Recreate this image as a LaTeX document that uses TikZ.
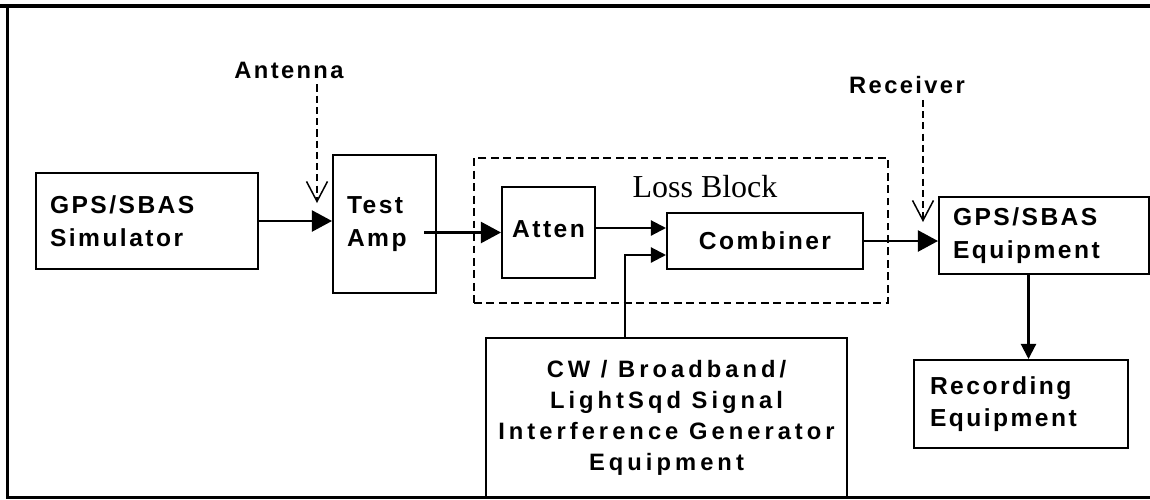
\documentclass[tikz,border=0pt]{standalone}
\usepackage{fontspec}
\setmainfont{Liberation Serif}
\newfontfamily\lblfont[LetterSpace=10]{Liberation Sans}
\newfontfamily\cwfont[LetterSpace=17]{Liberation Sans}
\usepackage{tikz}
\usetikzlibrary{arrows.meta,positioning,calc}

\begin{document}
\begin{tikzpicture}[every node/.style={font=\lblfont\bfseries\fontsize{14}{18.5}\selectfont},
  box/.style={draw,line width=1.15pt,inner sep=0pt},
  lbox/.style={box,align=left,inner xsep=0.28cm},
  sig/.style={line width=1.2pt,-{Triangle[length=0.4cm,width=0.42cm]}},
  sigsmall/.style={line width=1.2pt,-{Triangle[length=0.3cm,width=0.3cm]}},
  probe/.style={line width=0.85pt,dash pattern=on 4pt off 2.4pt,-{Straight Barb[length=0.4cm,width=0.42cm]}}]
  \useasboundingbox (0,0) rectangle (23,-9.98);
  \draw[line width=2.3pt] (0,-0.12) -- (23,-0.12);
  \draw[line width=1.4pt] (0.15,-0.12) -- (0.15,-9.95) -- (23,-9.95);

  \node[box,line width=0.85pt,dash pattern=on 4.5pt off 2.6pt,minimum width=8.28cm,minimum height=2.9cm] (loss) at (13.62,-4.61) {};
  \node[font=\fontsize{18.2}{20}\selectfont,anchor=base] (losslbl) at (14.1,-3.94) {Loss Block};

  \node[lbox,minimum height=1.92cm,text width=3.88cm] (sim) at (2.94,-4.42) {GPS/SBAS\\Simulator};
  \node[lbox,minimum height=2.76cm,text width=1.5cm] (amp) at (7.69,-4.48) {Test\\Amp};
  \node[box,minimum width=1.86cm,minimum height=1.82cm] (atten) at (10.97,-4.65) {\raisebox{0.14cm}{Atten}};
  \node[box,minimum width=3.92cm,minimum height=1.12cm] (comb) at (15.3,-4.82) {\raisebox{-0.12cm}{Combiner}};
  \node[lbox,minimum height=1.54cm,text width=3.64cm] (rx) at (20.88,-4.71) {GPS/SBAS\\Equipment};
  \node[lbox,inner xsep=0.32cm,minimum height=1.76cm,text width=3.64cm] (rec) at (20.42,-8.08) {Recording\\Equipment};
  \node[box,minimum width=7.22cm,minimum height=3.18cm,align=center,font=\cwfont\bfseries\fontsize{13.5}{17.6}\selectfont] (cw) at (13.33,-8.35) {CW / Broadband/\\LightSqd Signal\\Interference Generator\\Equipment};

  \node[font=\lblfont\bfseries\fontsize{13.5}{15}\selectfont] (ant) at (5.78,-1.4) {Antenna};
  \node[font=\lblfont\bfseries\fontsize{13.5}{15}\selectfont] (rcv) at (18.14,-1.7) {Receiver};
  \coordinate (antip) at (6.34,-4.06);
  \coordinate (rcvtip) at (18.46,-4.44);
  \draw[probe] (antip |- ant.south) -- (antip);
  \draw[probe] (rcvtip |- rcv.south) -- (rcvtip);

  \coordinate (ampout) at ([xshift=-0.26cm]amp.east);
  \coordinate (cin1) at ([yshift=0.26cm]comb.west);
  \coordinate (cin2) at ([yshift=-0.28cm]comb.west);
  \coordinate (cwup) at ([xshift=-0.82cm]cin2);
  \coordinate (rxout) at ([xshift=-0.31cm]rx.south);
  \draw[sig] (sim.east) -- (sim.east -| amp.west);
  \draw[sig] (ampout |- atten.west) -- (atten.west);
  \draw[sigsmall] (atten.east |- cin1) -- (cin1);
  \draw[sigsmall] (cw.north -| cwup) -- (cwup) -- (cin2);
  \draw[sig] (comb.east) -- (comb.east -| rx.west);
  \draw[sigsmall] (rxout) -- (rxout |- rec.north);
\end{tikzpicture}
\end{document}
